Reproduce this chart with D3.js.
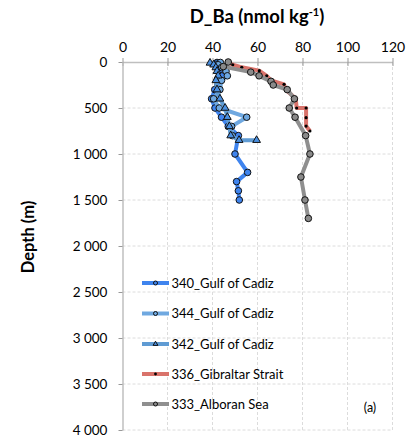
<!DOCTYPE html>
<html><head><meta charset="utf-8">
<script src="https://cdn.jsdelivr.net/npm/d3@7"></script>
<style>body{margin:0;background:#fff}svg{display:block}</style>
</head><body>
<svg id="c" width="408" height="441"></svg>
<script>
const xTicks = [0, 20, 40, 60, 80, 100, 120];
const yTicks = [0, 500, 1000, 1500, 2000, 2500, 3000, 3500, 4000];
const seriesNames = ["340_Gulf of Cadiz", "344_Gulf of Cadiz", "342_Gulf of Cadiz", "336_Gibraltar Strait", "333_Alboran Sea"];

// [depth m, D_Ba]
const s340 = [[5,42],[25,41.5],[50,43],[75,42.5],[100,43],[150,44],[200,42],[250,42.5],[300,41],[400,39.6],[500,41.1],[600,44],[700,47],[800,51.5],[1000,50],[1200,55.6],[1300,50.7],[1400,51.5],[1500,51.9]];
const s344 = [[5,43.5],[30,42.5],[60,44],[100,46],[150,46.6],[200,44],[300,43.3],[400,40.5],[500,43],[600,55.2],[700,48.5],[800,48.8]];
const s342 = [[10,38.9],[30,40.5],[60,41.5],[100,42],[150,42.5],[200,41.5],[300,42],[400,43.3],[500,45.6],[600,46.6],[700,47.5],[800,48.1],[850,51.8],[850,59.6]];
const s336 = [[5,47],[30,49],[58,53],[94,60.8],[150,64.1],[200,66],[243,71.8],[300,72.5],[400,77],[500,77.4],[500,81.6],[605,81.6],[696,81.6],[750,83.3]];
const s333 = [[0,47],[50,44.8],[110,57],[150,60.7],[210,66],[250,67],[300,73.2],[400,76.4],[500,74.1],[600,76.7],[800,81.4],[1000,83.3],[1250,79.3],[1500,81.1],[1700,82.6]];

const allSeries = [s340, s344, s342, s336, s333];
const lineColors = ["#3f84ee", "#6fa8e0", "#5f9bd3", "#d9736b", "#8f8f8f"];
const markerFills = ["#3f84ee", "#6fa8e0", "#4a90e2", "#000", "#8a8a8a"];
const markerKinds = ["circle", "circle", "triangle", "dot", "circle"];

const svg = d3.select("#c");
const x = d3.scaleLinear().domain([0, 120]).range([122.5, 392.5]);
const y = d3.scaleLinear().domain([0, 4000]).range([62, 430]);
const font = "Lato, 'Liberation Sans', sans-serif";
const loc = d3.formatLocale({decimal: ".", thousands: " ", grouping: [3], currency: ["", ""]});
const fmt = loc.format(",d");

// grid
const grid = svg.append("g").attr("stroke", "#dcdcdc").attr("stroke-dasharray", "3,2").attr("stroke-width", 1);
xTicks.slice(1).forEach(t => grid.append("line").attr("x1", x(t)).attr("x2", x(t)).attr("y1", y(0)).attr("y2", y(4000)));
yTicks.slice(1).forEach(t => grid.append("line").attr("x1", x(0)).attr("x2", x(120)).attr("y1", y(t)).attr("y2", y(t)));

// axes
const xAxis = d3.axisTop(x).tickValues(xTicks).tickSize(4).tickSizeOuter(0);
const gx = svg.append("g").attr("transform", `translate(0,${y(0)})`).call(xAxis);
gx.select(".domain").attr("stroke", "#bfbfbf").attr("stroke-width", 1.5);
gx.selectAll(".tick line").attr("stroke", "#999").attr("y1", 4);
gx.selectAll("text").attr("font-family", font).attr("font-size", 14).attr("fill", "#000").attr("dy", "-0.2em");

const yAxis = d3.axisLeft(y).tickValues(yTicks).tickSize(4).tickSizeOuter(0).tickFormat(fmt);
const gy = svg.append("g").attr("transform", `translate(${x(0)},0)`).call(yAxis);
gy.select(".domain").attr("stroke", "#bfbfbf").attr("stroke-width", 1.5);
gy.selectAll(".tick line").attr("stroke", "#999");
gy.selectAll("text").attr("font-family", font).attr("font-size", 13.5).attr("fill", "#000").attr("dx", "-0.6em");

// titles
const title = svg.append("text").attr("x", 257).attr("y", 23).attr("text-anchor", "middle")
  .attr("font-family", font).attr("font-weight", "bold").attr("font-size", 18.5);
title.append("tspan").text("D_Ba (nmol kg");
title.append("tspan").attr("font-size", 11).attr("dy", -7).text("-1");
title.append("tspan").attr("dy", 7).text(")");

svg.append("text").attr("transform", "translate(34,237) rotate(-90)").attr("text-anchor", "middle")
  .attr("font-family", font).attr("font-weight", "bold").attr("font-size", 16.5).text("Depth (m)");

// series
const line = d3.line().x(d => x(d[1])).y(d => y(d[0]));
function marker(g, kind, cx, cy, fill) {
  if (kind === "circle") g.append("circle").attr("cx", cx).attr("cy", cy).attr("r", 3.3).attr("fill", fill).attr("stroke", "#111").attr("stroke-width", 1);
  else if (kind === "triangle") g.append("path").attr("d", d3.symbol(d3.symbolTriangle, 26)()).attr("transform", `translate(${cx},${cy})`).attr("fill", fill).attr("stroke", "#111").attr("stroke-width", 1);
  else g.append("circle").attr("cx", cx).attr("cy", cy).attr("r", 1.6).attr("fill", "#000");
}
allSeries.forEach((s, i) => {
  const g = svg.append("g");
  g.append("path").datum(s).attr("d", line).attr("fill", "none").attr("stroke", lineColors[i]).attr("stroke-width", 4).attr("stroke-linejoin", "round");
  s.forEach(d => marker(g, markerKinds[i], x(d[1]), y(d[0]), markerFills[i]));
});

// legend
const legY = [283, 313.5, 344, 374, 404];
seriesNames.forEach((n, i) => {
  const g = svg.append("g");
  g.append("line").attr("x1", 142).attr("x2", 169).attr("y1", legY[i]).attr("y2", legY[i]).attr("stroke", lineColors[i]).attr("stroke-width", 4);
  if (markerKinds[i] === "triangle") g.append("path").attr("d", d3.symbol(d3.symbolTriangle, 10)()).attr("transform", `translate(155.5,${legY[i]})`).attr("fill", markerFills[i]).attr("stroke", "#111").attr("stroke-width", 1);
  else if (markerKinds[i] === "dot") g.append("circle").attr("cx", 155.5).attr("cy", legY[i]).attr("r", 1.4).attr("fill", "#000");
  else g.append("circle").attr("cx", 155.5).attr("cy", legY[i]).attr("r", 2).attr("fill", markerFills[i]).attr("stroke", "#111").attr("stroke-width", 1);
  g.append("text").attr("x", 171.5).attr("y", legY[i] + 4.5).attr("font-family", font).attr("font-size", 13).text(n);
});

svg.append("text").attr("x", 370).attr("y", 412).attr("text-anchor", "middle").attr("font-family", font).attr("font-size", 12.5).text("(a)");
</script>
</body></html>
